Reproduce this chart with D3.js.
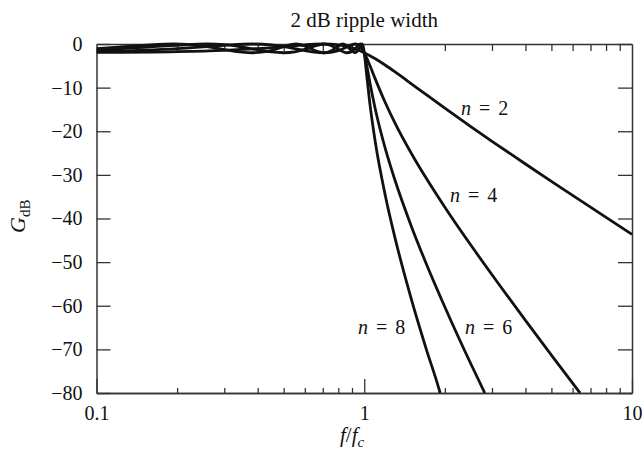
<!DOCTYPE html>
<html>
<head>
<meta charset="utf-8">
<script src="https://cdn.jsdelivr.net/npm/d3@7"></script>
<style>
  html, body { margin: 0; padding: 0; background: #fff; }
  svg { display: block; }
  text { font-family: "Liberation Serif", "Times New Roman", serif; fill: #111; }
</style>
</head>
<body>
<svg id="chart" width="642" height="453"></svg>
<script>
// ---- data ----
const titleText = "2 dB ripple width";
const xTickLabels = [0.1, 1, 10];
const xMinorTicks = [0.2, 0.3, 0.4, 0.5, 0.6, 0.7, 0.8, 0.9, 2, 3, 4, 5, 6, 7, 8, 9];
const yTicks = [0, -10, -20, -30, -40, -50, -60, -70, -80];

const freqN2 = [0.1, 0.2, 0.3, 0.4, 0.5, 0.6, 0.65, 0.707, 0.75, 0.8, 0.85, 0.9, 0.95, 1.0, 1.05, 1.1, 1.2, 1.3, 1.5, 1.7, 2, 2.5, 3, 4, 5, 6, 7, 8, 10];
const gainN2 = [-1.94, -1.75, -1.44, -1.04, -0.59, -0.2, -0.06, 0, -0.04, -0.2, -0.48, -0.88, -1.39, -2.0, -2.67, -3.38, -4.87, -6.35, -9.12, -11.57, -14.72, -18.94, -22.30, -27.51, -31.48, -34.70, -37.41, -39.75, -43.65];

const freqN4 = [0.1, 0.2, 0.3, 0.383, 0.45, 0.5, 0.55, 0.6, 0.65, 0.707, 0.75, 0.8, 0.85, 0.9, 0.924, 0.95, 0.975, 1.0, 1.02, 1.05, 1.1, 1.2, 1.3, 1.5, 1.7, 2, 2.5, 3, 4, 5, 6, 6.4];
const gainN4 = [-1.75, -1.07, -0.29, 0, -0.21, -0.59, -1.06, -1.51, -1.85, -2.0, -1.90, -1.51, -0.84, -0.13, 0, -0.22, -0.89, -2.0, -3.11, -4.94, -8.05, -13.53, -18.02, -25.10, -30.68, -37.41, -46.09, -52.89, -63.34, -71.30, -77.74, -80.0];

const freqN6 = [0.1, 0.2, 0.259, 0.3, 0.35, 0.4, 0.45, 0.5, 0.55, 0.6, 0.65, 0.707, 0.75, 0.8, 0.85, 0.866, 0.9, 0.93, 0.966, 0.98, 1.0, 1.02, 1.05, 1.1, 1.2, 1.3, 1.5, 1.7, 2, 2.5, 2.82];
const gainN6 = [-1.46, -0.31, 0, -0.16, -0.69, -1.33, -1.82, -2.0, -1.81, -1.24, -0.49, 0, -0.33, -1.24, -1.95, -2.0, -1.71, -0.92, 0, -0.32, -2.0, -4.64, -8.87, -14.95, -24.11, -31.07, -41.81, -50.19, -60.28, -73.30, -80.0];

const freqN8 = [0.1, 0.15, 0.195, 0.25, 0.3, 0.35, 0.383, 0.42, 0.47, 0.51, 0.556, 0.6, 0.65, 0.707, 0.75, 0.78, 0.831, 0.87, 0.9, 0.924, 0.95, 0.97, 0.981, 0.99, 1.0, 1.01, 1.02, 1.05, 1.1, 1.2, 1.3, 1.5, 1.7, 1.9, 1.92];
const gainN8 = [-1.08, -0.31, 0, -0.46, -1.27, -1.88, -2.0, -1.83, -1.14, -0.42, 0, -0.43, -1.42, -2.0, -1.61, -0.94, 0, -0.72, -1.66, -2.0, -1.45, -0.36, 0, -0.44, -2.0, -4.32, -6.88, -13.78, -22.51, -34.90, -44.21, -58.53, -69.70, -79.01, -80.0];

const seriesOrders = [2, 4, 6, 8];
const seriesValues = ["2", "4", "6", "8"];
// label start points (frequency, dB)
const labelFreq = [2.30, 2.09, 2.38, 0.948];
const labelGain = [-16.3, -36.2, -66.5, -66.5];

// ---- layout ----
const svg = d3.select("#chart");
const L = 96.5, R = 632, T = 44, B = 393;
const x = d3.scaleLog().domain([0.1, 10]).range([L, R]);
const y = d3.scaleLinear().domain([-80, 0]).range([B, T]);
const axisColor = "#333";

svg.append("defs").append("clipPath").attr("id", "clip")
  .append("rect").attr("x", L).attr("y", T - 2).attr("width", R - L).attr("height", B - T + 2);

// title
svg.append("text").attr("x", (L + R) / 2).attr("y", 27)
  .attr("text-anchor", "middle").attr("font-size", 21).text(titleText);

// axes
function styleAxis(g) {
  g.selectAll("path.domain").attr("stroke", axisColor).attr("stroke-width", 1.5);
  g.selectAll(".tick line").attr("stroke", axisColor).attr("stroke-width", 1.3);
  g.selectAll(".tick text").attr("font-family", "Liberation Serif, Times New Roman, serif")
    .attr("font-size", 20).attr("fill", "#111");
}

// bottom: major + minor
svg.append("g").attr("transform", `translate(0,${B})`)
  .call(d3.axisBottom(x).tickValues(xTickLabels).tickSizeInner(-14).tickSizeOuter(0).tickPadding(13)
    .tickFormat(d => d === 0.1 ? "0.1" : String(d)))
  .call(styleAxis);
svg.append("g").attr("transform", `translate(0,${B})`)
  .call(d3.axisBottom(x).tickValues(xMinorTicks).tickSizeInner(-5).tickSizeOuter(0).tickFormat(""))
  .call(styleAxis);
// top
svg.append("g").attr("transform", `translate(0,${T})`)
  .call(d3.axisTop(x).tickValues(xMinorTicks).tickSizeInner(-7).tickSizeOuter(0).tickFormat(""))
  .call(styleAxis);
// left
svg.append("g").attr("transform", `translate(${L},0)`)
  .call(d3.axisLeft(y).tickValues(yTicks).tickSizeInner(-14).tickSizeOuter(0).tickPadding(14))
  .call(styleAxis);
// right
svg.append("g").attr("transform", `translate(${R},0)`)
  .call(d3.axisRight(y).tickValues(yTicks).tickSizeInner(-14).tickSizeOuter(0).tickFormat(""))
  .call(styleAxis);

// curves
const freqs = [freqN2, freqN4, freqN6, freqN8];
const gains = [gainN2, gainN4, gainN6, gainN8];
const line = d3.line().x(d => x(d[0])).y(d => y(d[1])).curve(d3.curveMonotoneX);
const plot = svg.append("g").attr("clip-path", "url(#clip)");
seriesOrders.forEach((n, i) => {
  const pts = freqs[i].map((f, j) => [f, gains[i][j]]);
  plot.append("path").datum(pts).attr("d", line)
    .attr("fill", "none").attr("stroke", "#111").attr("stroke-width", 2.8)
    .attr("stroke-linejoin", "round");
});

// series labels
seriesValues.forEach((v, i) => {
  const t = svg.append("text").attr("x", x(labelFreq[i])).attr("y", y(labelGain[i]))
    .attr("font-size", 20).attr("xml:space", "preserve");
  t.append("tspan").attr("font-style", "italic").text("n");
  t.append("tspan").text(" = " + v).attr("word-spacing", 3);
});

// x label f/fc
const xl = svg.append("text").attr("x", 340).attr("y", 442).attr("font-size", 21);
xl.append("tspan").attr("font-style", "italic").text("f");
xl.append("tspan").text("/");
xl.append("tspan").attr("font-style", "italic").text("f");
xl.append("tspan").attr("font-style", "italic").attr("font-size", 15).attr("dy", 5).text("c");

// y label G_dB (rotated)
const yl = svg.append("text").attr("transform", "translate(25,233) rotate(-90)").attr("font-size", 22);
yl.append("tspan").attr("font-style", "italic").text("G");
yl.append("tspan").attr("font-size", 15).attr("dy", 5).text("dB");
</script>
</body>
</html>
